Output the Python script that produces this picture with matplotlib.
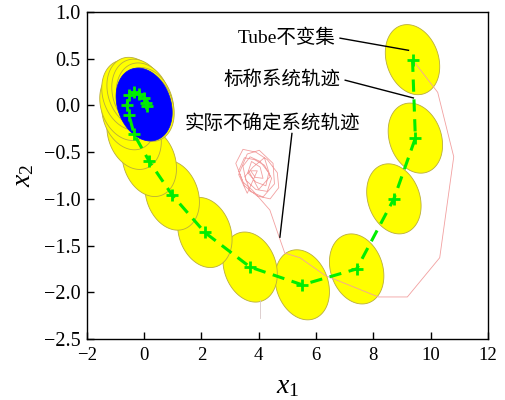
import numpy as np
import matplotlib
matplotlib.use("Agg")
import matplotlib.pyplot as plt
from matplotlib.ticker import FuncFormatter

plt.rcParams['font.family'] = ['Liberation Serif', 'Noto Sans CJK SC']
plt.rcParams['mathtext.fontset'] = 'custom'
plt.rcParams['mathtext.it'] = 'Liberation Serif:italic'
plt.rcParams['mathtext.rm'] = 'Liberation Serif'

# nominal trajectory (tube centres)
nom_x = [9.37, 9.47, 8.72, 7.42, 5.52, 3.70, 2.12, 0.98, 0.18, -0.35, -0.53,
         -0.60, -0.53, -0.35, -0.18, -0.02, 0.08, 0.10]
nom_y = [0.49, -0.35, -1.00, -1.75, -1.92, -1.73, -1.36, -0.96, -0.60, -0.31,
         -0.10, 0.00, 0.11, 0.14, 0.12, 0.08, 0.03, -0.01]

# actual uncertain trajectory
act_x = [9.37, 10.25, 10.81, 10.32, 9.19, 8.18, 6.32, 5.44, 4.91, 4.67, 4.39, 3.79,
         3.45, 3.20, 3.45, 3.90, 4.30, 4.65, 4.70, 4.40, 3.95, 3.50, 3.30, 3.50,
         3.85, 4.20, 4.45, 4.30, 3.90, 3.55, 3.45, 3.70, 4.05, 4.35, 4.25, 3.90,
         3.62, 3.75, 4.05, 4.15, 3.88, 3.72, 3.95, 3.60, 3.30, 3.60, 4.02, 4.50,
         4.55, 4.15, 3.70, 3.52, 3.80, 4.20, 4.40, 4.00, 3.65]
act_y = [0.49, 0.14, -0.55, -1.63, -2.05, -2.05, -1.82, -1.63, -1.58, -1.37, -1.12, -0.91,
         -0.82, -0.62, -0.47, -0.50, -0.58, -0.72, -0.88, -1.00, -0.97, -0.86, -0.70, -0.56,
         -0.58, -0.64, -0.78, -0.92, -0.90, -0.80, -0.65, -0.55, -0.60, -0.72, -0.86, -0.82,
         -0.72, -0.60, -0.66, -0.78, -0.77, -0.70, -0.70, -0.94, -0.74, -0.52, -0.48, -0.62,
         -0.84, -0.98, -0.92, -0.76, -0.66, -0.56, -0.76, -0.90, -0.70]

# short pale segment near the bottom
seg_x = [4.04, 4.04]
seg_y = [-2.08, -2.27]

# tube invariant set shape (half extents in x, y and correlation)
tube_sx, tube_sy, tube_rho = 0.95, 0.375, -0.20
term_c = (0.0, 0.01)
term_sx, term_sy, term_rho = 0.98, 0.39, -0.22

xticks = [-2, 0, 2, 4, 6, 8, 10, 12]
yticks = [-2.5, -2.0, -1.5, -1.0, -0.5, 0.0, 0.5, 1.0]


def ellipse(cx, cy, sx, sy, rho, n=160):
    t = np.linspace(0, 2 * np.pi, n)
    ex = cx + sx * np.cos(t)
    ey = cy + sy * (rho * np.cos(t) + np.sqrt(1 - rho ** 2) * np.sin(t))
    return ex, ey


fig = plt.figure(figsize=(5.05, 4.0), dpi=100)
ax = fig.add_axes([0.172, 0.1525, 0.794, 0.8175])

for cx, cy in zip(nom_x, nom_y):
    ex, ey = ellipse(cx, cy, tube_sx, tube_sy, tube_rho)
    ax.fill(ex, ey, facecolor='#ffff00', edgecolor='#b9ad3a', lw=0.6, zorder=1)

ax.plot(act_x, act_y, color='#f2a0a0', lw=0.6, zorder=2)
ax.plot(seg_x, seg_y, color='#d8c8c8', lw=0.6, zorder=2)

ex, ey = ellipse(term_c[0], term_c[1], term_sx, term_sy, term_rho)
ax.fill(ex, ey, facecolor='#0000ff', edgecolor='#0000ff', lw=0.5, zorder=3)

ax.plot(nom_x, nom_y, color='#00ee00', ls='--', lw=2.2, marker='+', ms=8, mew=2,
        dashes=(4, 2.5), zorder=4)

# annotations
fs = 14
ax.text(4.98, 0.72, 'Tube不变集', fontsize=fs, ha='center', va='center')
ax.plot([6.84, 9.23], [0.72, 0.59], color='black', lw=1.0, zorder=5)
ax.text(4.82, 0.27, '标称系统轨迹', fontsize=fs, ha='center', va='center')
ax.plot([7.02, 9.40], [0.27, 0.08], color='black', lw=1.0, zorder=5)
ax.text(4.47, -0.19, '实际不确定系统轨迹', fontsize=fs, ha='center', va='center')
ax.plot([5.16, 4.74], [-0.30, -1.41], color='black', lw=1.0, zorder=5)

ax.set_xlim(-2, 12)
ax.set_ylim(-2.5, 1.0)
ax.set_xticks(xticks)
ax.set_yticks(yticks)
ax.xaxis.set_major_formatter(FuncFormatter(lambda v, p: f'{v:g}'.replace('-', '\u2212')))
ax.yaxis.set_major_formatter(FuncFormatter(lambda v, p: f'{v:.1f}'.replace('-', '\u2212')))
ax.tick_params(direction='in', length=5, width=1)
ax.tick_params(axis='x', labelsize=13.5, pad=6)
ax.tick_params(axis='y', labelsize=14.5, pad=4.5)
for s in ax.spines.values():
    s.set_linewidth(1.0)

ax.set_xlabel('$x_1$', fontsize=20, labelpad=7)
ax.set_ylabel('$x_2$', fontsize=20, labelpad=6)

fig.savefig('out.png', dpi=100)
